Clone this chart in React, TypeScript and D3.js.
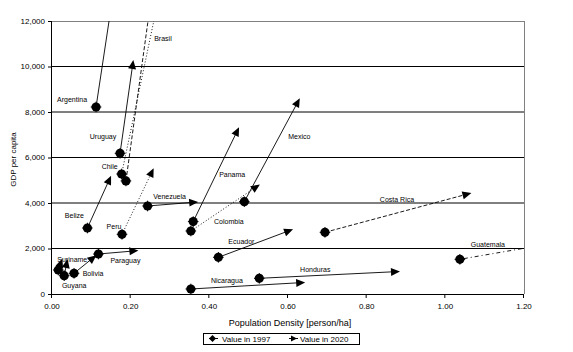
import * as d3 from 'd3';

// countries, 1997 value and projected 2020 value
const countries = ['Argentina', 'Uruguay', 'Brasil', 'Chile', 'Belize', 'Peru', 'Venezuela', 'Paraguay', 'Bolivia', 'Guyana', 'Suriname', 'Panama', 'Colombia', 'Mexico', 'Ecuador', 'Costa Rica', 'Guatemala', 'Honduras', 'Nicaragua'];
const density1997 = [0.112, 0.173, 0.188, 0.177, 0.09, 0.178, 0.243, 0.118, 0.056, 0.031, 0.016, 0.359, 0.353, 0.489, 0.423, 0.694, 1.037, 0.527, 0.353];
const gdp1997 = [8220, 6185, 4970, 5275, 2900, 2625, 3868, 1758, 910, 805, 1055, 3183, 2770, 4058, 1613, 2712, 1525, 690, 220];
const density2020 = [0.18, 0.205, 0.268, 0.271, 0.145, 0.253, 0.359, 0.207, 0.103, 0.037, 0.022, 0.47, 0.518, 0.624, 0.601, 1.054, 1.6, 0.872, 0.631];
const gdp2020 = [16000, 10067, 15000, 13000, 5000, 5332, 4031, 1890, 1569, 1319, 1350, 7135, 4690, 8410, 2770, 4383, 3200, 980, 497];

const xTicks = [0, 0.2, 0.4, 0.6, 0.8, 1.0, 1.2];
const yTicks = [0, 2000, 4000, 6000, 8000, 10000, 12000];

// line style per country
const dashes: Record<string, string> = {
  Brasil: '4,2',
  Chile: '1,2',
  Peru: '1,2',
  Colombia: '1,2',
  'Costa Rica': '4,2',
  Guatemala: '1,3,4,3',
};

// label offset (px) from the 1997 point
const labelOffsets: Record<string, [number, number]> = {
  Argentina: [-24, -7],
  Uruguay: [-17, -17],
  Brasil: [37, -142],
  Chile: [-12, -7],
  Belize: [-13, -12],
  Peru: [-8, -8],
  Venezuela: [22, -9],
  Paraguay: [27, 7],
  Bolivia: [19, 0],
  Guyana: [10, 10],
  Suriname: [14, -10],
  Panama: [39, -47],
  Colombia: [38, -9],
  Mexico: [55, -65],
  Ecuador: [23, -16],
  'Costa Rica': [72, -33],
  Guatemala: [28, -15],
  Honduras: [56, -9],
  Nicaragua: [36, -8],
};

const W = 573;
const H = 352;
const margin = { left: 52, right: 49, top: 21, bottom: 58 };
const font = 'Liberation Sans, Arial, sans-serif';

function Blob({ x, y }: { x: number; y: number }) {
  return (
    <g>
      <circle cx={x} cy={y} r={4.6} fill="#000" />
      <path d={`M${x - 5.3},${y}H${x + 5.3}M${x},${y - 5.3}V${y + 5.3}`} stroke="#000" strokeWidth={1} />
    </g>
  );
}

function Arrow({ x, y, angle }: { x: number; y: number; angle: number }) {
  return (
    <path
      d="M5,0L-4,-4L-4,4Z"
      fill="#000"
      transform={`translate(${x},${y}) rotate(${angle})`}
    />
  );
}

export default function App() {
  const x = d3.scaleLinear().domain([0, 1.2]).range([margin.left, W - margin.right]);
  const y = d3.scaleLinear().domain([0, 12000]).range([H - margin.bottom, margin.top]);
  const fmtX = d3.format('.2f');
  const fmtY = d3.format(',');

  const x0 = x(0);
  const x1 = x(1.2);
  const y0 = y(0);
  const y1 = y(12000);

  return (
    <svg width={W} height={H} style={{ position: 'absolute', left: 0, top: 0, background: '#fff' }} fontFamily={font}>
      <defs>
        <clipPath id="plot">
          <rect x={x0} y={y1} width={x1 - x0} height={y0 - y1} />
        </clipPath>
      </defs>

      {/* grid */}
      {yTicks.slice(1, -1).map((t) => (
        <line key={t} x1={x0} x2={x1} y1={y(t)} y2={y(t)} stroke="#000" strokeWidth={1} />
      ))}
      <line x1={x0} x2={x1} y1={y1 + 0.5} y2={y1 + 0.5} stroke="#808080" />
      <line x1={x1 + 0.5} x2={x1 + 0.5} y1={y1} y2={y0} stroke="#808080" />

      {/* axes */}
      <line x1={x0 - 0.5} x2={x0 - 0.5} y1={y1} y2={y0 + 0.5} stroke="#000" />
      <line x1={x0 - 4} x2={x1} y1={y0 + 0.5} y2={y0 + 0.5} stroke="#000" />
      {yTicks.map((t) => (
        <g key={t}>
          <line x1={x0 - 4} x2={x0} y1={y(t) + 0.5} y2={y(t) + 0.5} stroke="#000" />
          <text x={x0 - 7} y={y(t)} dy="0.35em" textAnchor="end" fontSize={8}>
            {fmtY(t)}
          </text>
        </g>
      ))}
      {xTicks.map((t) => (
        <g key={t}>
          <line x1={x(t) - 0.5} x2={x(t) - 0.5} y1={y0} y2={y0 + 4} stroke="#000" />
          <text x={x(t)} y={y0 + 15} textAnchor="middle" fontSize={8}>
            {fmtX(t)}
          </text>
        </g>
      ))}

      <text transform={`translate(16,${(y0 + y1) / 2 + 2}) rotate(-90)`} textAnchor="middle" fontSize={8}>
        GDP per capita
      </text>
      <text x={290} y={326} textAnchor="middle" fontSize={9}>
        Population Density  [person/ha]
      </text>

      {/* lines and arrows */}
      <g clipPath="url(#plot)">
        {countries.map((c, i) => {
          const ax = x(density1997[i]);
          const ay = y(gdp1997[i]);
          const bx = x(density2020[i]);
          const by = y(gdp2020[i]);
          const angle = (Math.atan2(by - ay, bx - ax) * 180) / Math.PI;
          return (
            <g key={c}>
              <line x1={ax} y1={ay} x2={bx} y2={by} stroke="#000" strokeWidth={0.9} strokeDasharray={dashes[c]} />
              <Arrow x={bx} y={by} angle={angle} />
            </g>
          );
        })}
      </g>
      {countries.map((c, i) => (
        <Blob key={c} x={x(density1997[i])} y={y(gdp1997[i])} />
      ))}
      {countries.map((c, i) => {
        const [dx, dy] = labelOffsets[c];
        return (
          <text
            key={c}
            x={x(density1997[i]) + dx}
            y={y(gdp1997[i]) + dy}
            dy="0.35em"
            textAnchor="middle"
            fontSize={7}
          >
            {c}
          </text>
        );
      })}

      {/* legend */}
      <rect x={203.5} y={333.5} width={156} height={11} fill="none" stroke="#000" />
      <line x1={209} x2={218} y1={338.5} y2={338.5} stroke="#000" />
      <path d="M212.5,335L216,338.5L212.5,342L209,338.5Z" fill="#000" />
      <text x={222} y={339} dy="0.35em" fontSize={8}>
        Value in 1997
      </text>
      <line x1={289} x2={298} y1={338.5} y2={338.5} stroke="#000" />
      <path d="M297,338.5L291,335.5L291,341.5Z" fill="#000" />
      <text x={300} y={339} dy="0.35em" fontSize={8}>
        Value in 2020
      </text>
    </svg>
  );
}
